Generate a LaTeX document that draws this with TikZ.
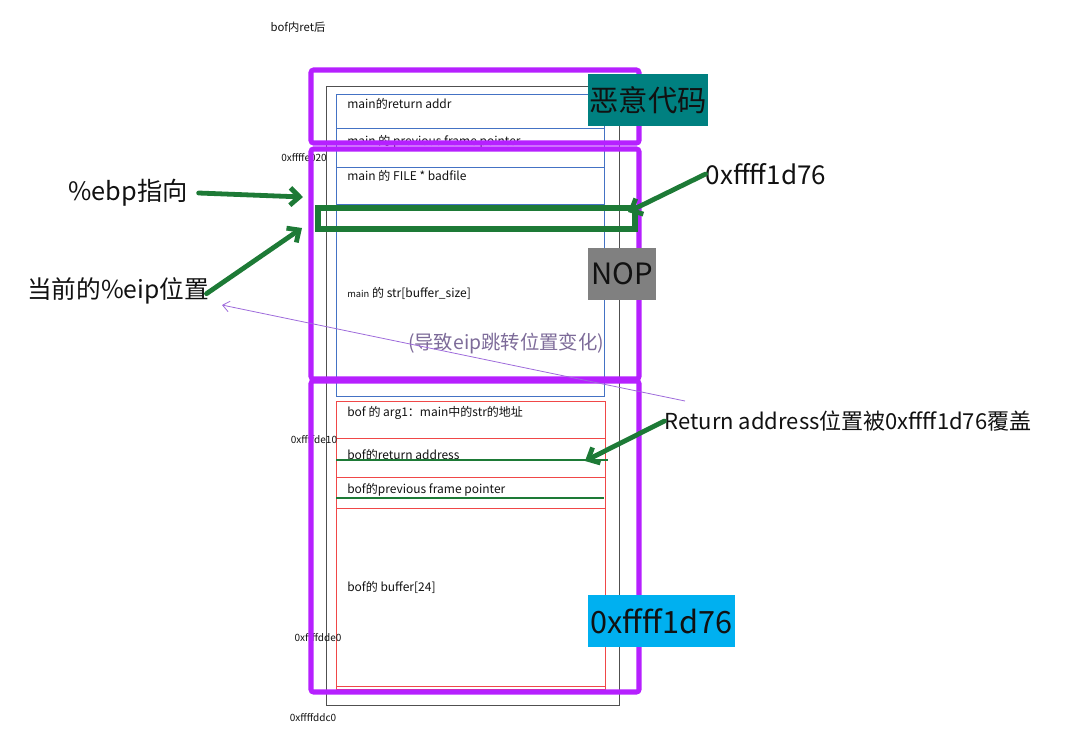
\documentclass[tikz,border=0pt]{standalone}
\usepackage{fontspec}
\setmainfont{Noto Sans CJK SC}
\usetikzlibrary{arrows.meta,positioning}
\definecolor{ink}{HTML}{111111}
\definecolor{frame}{HTML}{505050}
\definecolor{mainblue}{HTML}{4472C4}
\definecolor{bofred}{HTML}{F04848}
\definecolor{violet}{HTML}{B620FF}
\definecolor{green}{HTML}{1D7A36}
\definecolor{teal}{HTML}{008080}
\definecolor{nopgray}{HTML}{808080}
\definecolor{cyan}{HTML}{00B0F0}
\definecolor{jump}{HTML}{9E6BDB}
\definecolor{hint}{HTML}{7D6B99}
\tikzset{
  every node/.style={text=ink,inner sep=0pt},
  slot/.style={anchor=west,font=\fontsize{9}{11}\selectfont},
  addr/.style={font=\fontsize{7.5}{9}\selectfont},
  big/.style={font=\fontsize{19}{22}\selectfont},
  tagbox/.style={minimum height=39pt,font=\fontsize{22}{26}\selectfont},
  stackframe/.style={draw=violet,line width=3.8pt,rounded corners=2pt},
  mainslot/.style={draw=mainblue,line width=0.6pt},
  bofslot/.style={draw=bofred,line width=0.6pt},
  greenarr/.style={draw=green,line width=3.6pt,line cap=round,-{Straight Barb[length=7pt,width=13pt]}},
  greenline/.style={draw=green,line width=2.2pt},
  jumparr/.style={draw=jump,line width=0.6pt,-{Straight Barb[length=5pt,width=8pt]}},
}
\begin{document}
\begin{tikzpicture}[x=0.75pt,y=-0.75pt]
\useasboundingbox (0,0) rectangle (1086,744);

% stack outline
\draw[frame,line width=0.7pt] (326,86) rectangle (619,705);

% main's frame
\draw[mainslot] (336,94) rectangle (604,128);
\draw[mainslot] (336,128) rectangle (604,167);
\draw[mainslot] (336,167) rectangle (604,396);
\draw[mainslot] (336,204) -- (604,204);
\node[slot] (mainret) at (347,104) {main的return addr};
\node[slot] (mainfp) at (347,142) {main 的 previous frame pointer};
\node[slot] (mainfile) at (347,176) {main 的 FILE * badfile};
\node[slot] (mainstr) at (347,293) {{\fontsize{7}{8}\selectfont main} 的 str[buffer\_size]};

% bof's frame
\draw[bofslot] (336,401) rectangle (605,689);
\foreach \y in {438,477,508} \draw[bofslot] (336,\y) -- (605,\y);
\draw[bofslot] (336,686) -- (605,686);
\node[slot] (bofarg) at (347,413) {bof 的 arg1：main中的str的地址};
\node[slot] (bofret) at (347,455) {bof的return address};
\node[slot] (boffp) at (347,490) {bof的previous frame pointer};
\node[slot] (bofbuf) at (347,587) {bof的 buffer[24]};

% addresses
\node[addr,font=\fontsize{8.5}{10}\selectfont] (title) at (298,27) {bof内ret后};
\node[addr] (a020) at (304,158) {0xffffe020};
\node[addr] (a10) at (314,440) {0xffffde10};
\node[addr] (ae0) at (318,638) {0xffffdde0};
\node[addr] (ac0) at (313,718) {0xffffddc0};

% overwritten slots
\draw[greenline] (336,460) -- (608,460);
\draw[greenline] (336,498) -- (604,498);

% payload regions
\draw[stackframe] (311,70) rectangle (639,143);
\draw[stackframe] (311,149) rectangle (639,379);
\draw[stackframe] (311,381) rectangle (639,692);
\draw[green,line width=3.8pt] (318,208) rectangle (635,229);

\node[tagbox,fill=teal,minimum width=90pt] (evil) at (648,100) {恶意代码};
\node[tagbox,fill=nopgray,minimum width=51pt] (nop) at (622,274) {NOP};
\node[tagbox,fill=cyan,minimum width=110pt,font=\fontsize{23}{27}\selectfont] (newret) at (661.5,621) {0xffff1d76};

\node[font=\fontsize{14.5}{17}\selectfont,text=hint] (hint) at (506,343) {(导致eip跳转位置变化)};

% labels and arrows
\node[big] (ebp) at (128,193) {\%ebp指向};
\node[big,font=\fontsize{18.5}{22}\selectfont] (eip) at (118,291) {当前的\%eip位置};
\node[font=\fontsize{19.5}{23}\selectfont] (target) at (766,174) {0xffff1d76};
\node[font=\fontsize{16.5}{19}\selectfont] (over) at (848,421) {Return address位置被0xffff1d76覆盖};

\coordinate (ebptip) at (303,197);
\coordinate (eiptip) at (302,228);
\coordinate (targettip) at (628,212);
\coordinate (overtip) at (585,461);
\coordinate (jumpfrom) at (685,401);
\coordinate (jumpto) at (222,305);

\draw[greenarr] ([xshift=8pt]ebp.east) -- (ebptip);
\draw[greenarr] ([xshift=-2pt,yshift=-2pt]eip.east) -- (eiptip);
\draw[greenarr] (target.west) -- (targettip);
\draw[greenarr] (over.west) -- (overtip);
\draw[jumparr] (jumpfrom) -- (jumpto);

\end{tikzpicture}
\end{document}
